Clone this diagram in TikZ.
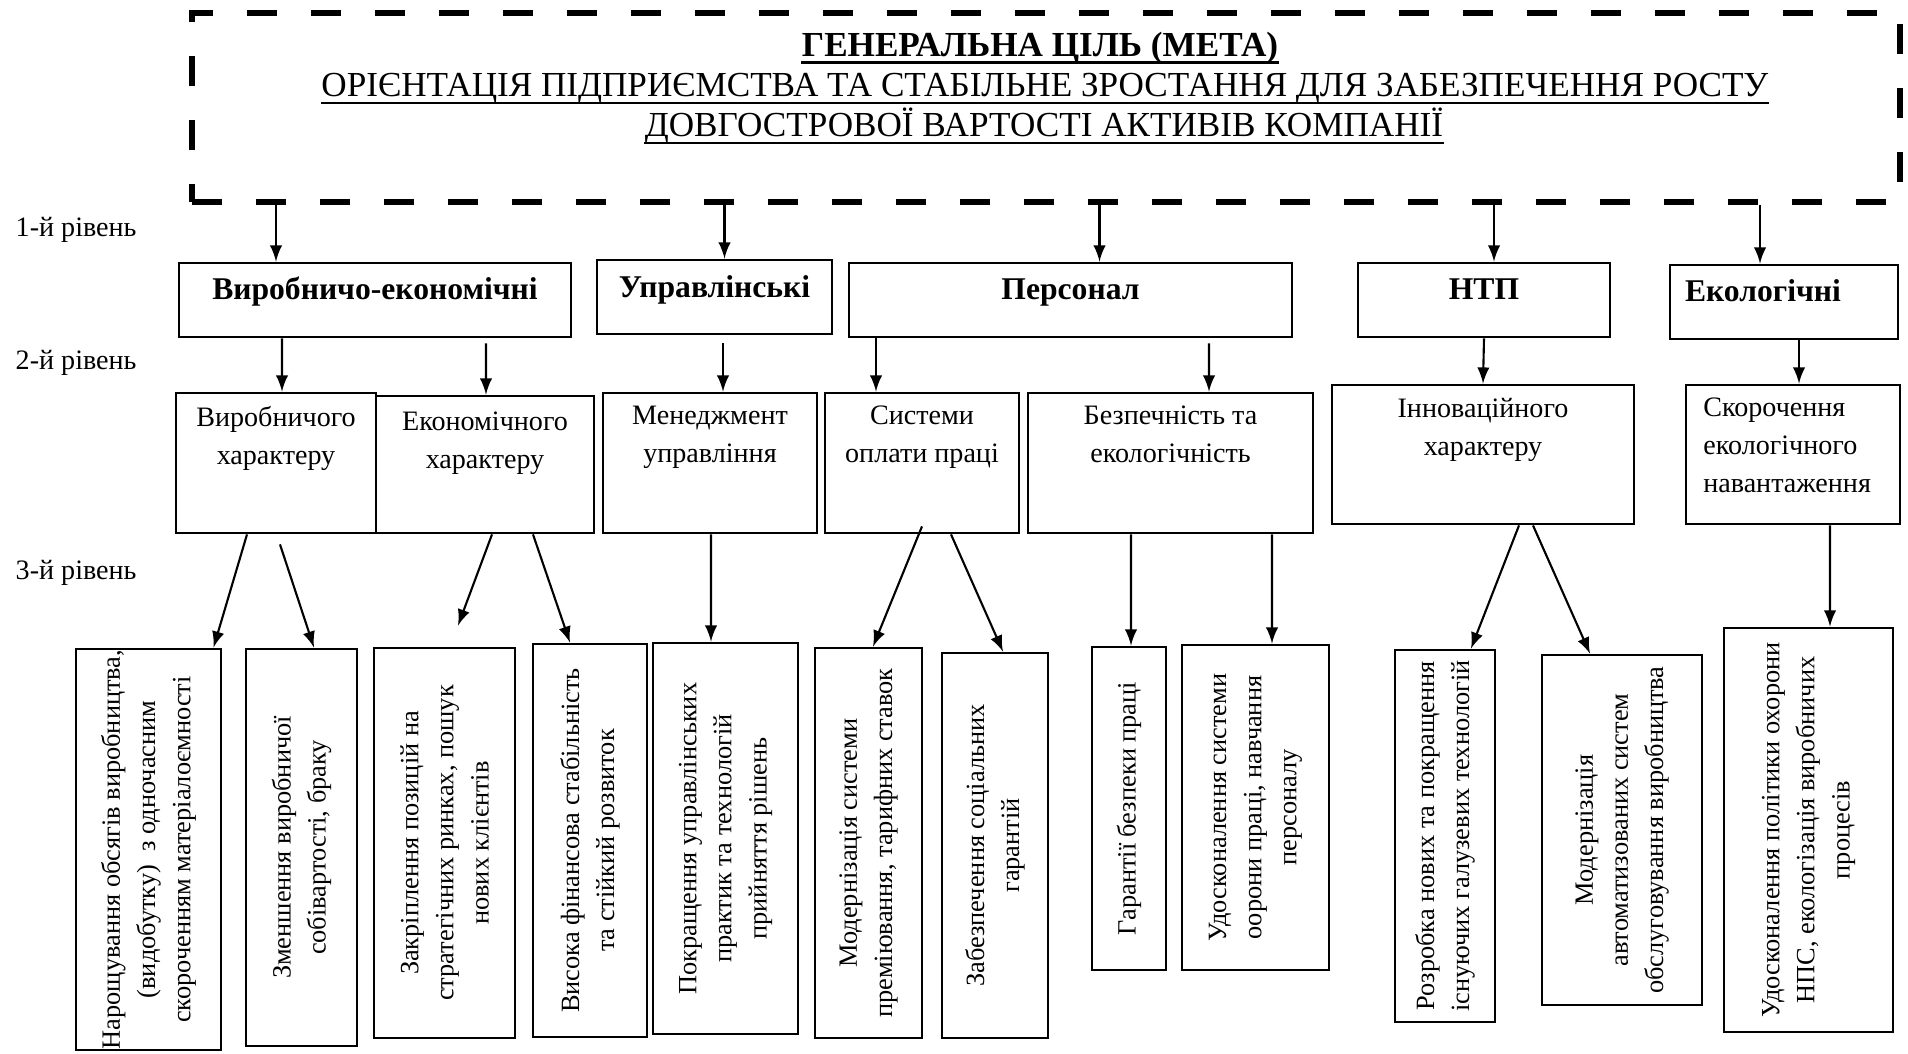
\documentclass[tikz,border=0pt]{standalone}
\usepackage{fontspec}
\setmainfont{Liberation Serif}
\usetikzlibrary{positioning}

\begin{document}
\begin{tikzpicture}[
    goal/.style={draw, line width=1.7pt, dash pattern=on 0.30cm off 0.34cm, minimum width=17.08cm, minimum height=1.89cm},
    lvone/.style={draw, line width=0.8pt, font=\fontsize{9}{11}\selectfont\bfseries, text height=2mm, text depth=2mm, minimum height=0.74cm},
    box/.style={draw, line width=0.8pt},
    lvtext/.style={font=\fontsize{8}{10.8}\selectfont, align=center, inner sep=0pt},
    vtext/.style={rotate=90, font=\fontsize{7.5}{10}\selectfont, align=center, inner sep=0pt},
    arr/.style={->, >=latex, line width=0.6pt},
    lvl/.style={font=\fontsize{8}{10}\selectfont, anchor=west, inner sep=0pt},
    ttl/.style={font=\fontsize{10}{12}\selectfont, anchor=base, inner sep=0pt},
    uline/.style={line width=0.6pt}
]
\useasboundingbox (0,0) rectangle (19.08,-10.54);

% генеральна ціль
\node[goal] (goal) at (10.46,-1.075) {};
\node[ttl, font=\fontsize{10}{12}\selectfont\bfseries] (g1) at (10.40,-0.57) {ГЕНЕРАЛЬНА ЦІЛЬ (МЕТА)};
\node[ttl] (g2) at (10.45,-0.97) {ОРІЄНТАЦІЯ ПІДПРИЄМСТВА ТА СТАБІЛЬНЕ ЗРОСТАННЯ ДЛЯ ЗАБЕЗПЕЧЕННЯ РОСТУ};
\node[ttl] (g3) at (10.44,-1.37) {ДОВГОСТРОВОЇ ВАРТОСТІ АКТИВІВ КОМПАНІЇ};
\draw[uline, line width=0.8pt] ([yshift=-1.6pt]g1.base west) -- ([yshift=-1.6pt]g1.base east);
\draw[uline] ([yshift=-1.6pt]g2.base west) -- ([yshift=-1.6pt]g2.base east);
\draw[uline] ([yshift=-1.6pt]g3.base west) -- ([yshift=-1.6pt]g3.base east);

% рівні
\node[lvl] (r1) at (0.15,-2.30) {1-й рівень};
\node[lvl] (r2) at (0.15,-3.63) {2-й рівень};
\node[lvl] (r3) at (0.15,-5.73) {3-й рівень};

% 1-й рівень
\node[lvone, minimum width=3.92cm] (a1) at (3.75,-3.00) {Виробничо-економічні};
\node[lvone, minimum width=2.35cm] (a2) at (7.145,-2.97) {Управлінські};
\node[lvone, minimum width=4.43cm] (a3) at (10.705,-3.00) {Персонал};
\node[lvone, minimum width=2.52cm] (a4) at (14.84,-3.00) {НТП};
\node[lvone, minimum width=2.28cm] (a5) at (17.84,-3.02) {Екологічні\hspace*{0.42cm}};

\coordinate (p1) at ([xshift=-0.99cm]a1.north);
\coordinate (p2) at ([xshift=0.10cm]a2.north);
\coordinate (p3) at ([xshift=0.29cm]a3.north);
\coordinate (p4) at ([xshift=0.10cm]a4.north);
\coordinate (p5) at ([xshift=-0.24cm]a5.north);
\draw[arr] (goal.south -| p1) -- (p1);
\draw[arr] (goal.south -| p2) -- (p2);
\draw[arr] (goal.south -| p3) -- (p3);
\draw[arr] (goal.south -| p4) -- (p4);
\draw[arr] (goal.south -| p5) -- (p5);

% 2-й рівень
\node[box, minimum width=2.00cm, minimum height=1.40cm] (b1) at (2.76,-4.63) {};
\node[box, minimum width=2.18cm, minimum height=1.37cm] (b2) at (4.85,-4.645) {};
\node[box, minimum width=2.14cm, minimum height=1.40cm] (b3) at (7.10,-4.63) {};
\node[box, minimum width=1.94cm, minimum height=1.40cm] (b4) at (9.22,-4.63) {};
\node[box, minimum width=2.85cm, minimum height=1.40cm] (b5) at (11.705,-4.63) {};
\node[box, minimum width=3.02cm, minimum height=1.39cm] (b6) at (14.83,-4.545) {};
\node[box, minimum width=2.14cm, minimum height=1.39cm] (b7) at (17.93,-4.545) {};

\node[lvtext, below=0.14cm of b1.north] (t1) {Виробничого\\характеру};
\node[lvtext, below=0.17cm of b2.north] (t2) {Економічного\\характеру};
\node[lvtext, below=0.14cm of b3.north] (t3) {Менеджмент\\управління};
\node[lvtext, below=0.14cm of b4.north] (t4) {Системи\\оплати праці};
\node[lvtext, below=0.14cm of b5.north] (t5) {Безпечність та\\екологічність};
\node[lvtext, below=0.14cm of b6.north] (t6) {Інноваційного\\характеру};
\node[lvtext, align=left, below right=0.14cm and 0.18cm of b7.north west] (t7) {Скорочення\\екологічного\\навантаження};

\draw[arr] ([xshift=-0.93cm]a1.south) -- ([xshift=0.06cm]b1.north);
\draw[arr] ([xshift=1.11cm,yshift=-0.05cm]a1.south) -- ([xshift=0.01cm]b2.north);
\draw[arr] ([xshift=0.085cm,yshift=-0.08cm]a2.south) -- ([xshift=0.13cm]b3.north);
\draw[arr] ([xshift=-1.945cm]a3.south) -- ([xshift=-0.46cm]b4.north);
\draw[arr] ([xshift=1.385cm,yshift=-0.05cm]a3.south) -- ([xshift=0.385cm]b5.north);
\draw[arr] (a4.south) -- (b6.north);
\draw[arr] ([xshift=0.15cm]a5.south) -- ([xshift=0.06cm]b7.north);

% 3-й рівень
\node[box, minimum width=1.45cm, minimum height=4.01cm] (c1) at (1.485,-8.495) {};
\node[box, minimum width=1.11cm, minimum height=3.97cm] (c2) at (3.015,-8.475) {};
\node[box, minimum width=1.41cm, minimum height=3.90cm] (c3) at (4.445,-8.43) {};
\node[box, minimum width=1.14cm, minimum height=3.93cm] (c4) at (5.90,-8.405) {};
\node[box, minimum width=1.45cm, minimum height=3.91cm] (c5) at (7.255,-8.385) {};
\node[box, minimum width=1.07cm, minimum height=3.90cm] (c6) at (8.685,-8.43) {};
\node[box, minimum width=1.06cm, minimum height=3.85cm] (c7) at (9.95,-8.455) {};
\node[box, minimum width=0.74cm, minimum height=3.23cm] (c8) at (11.29,-8.085) {};
\node[box, minimum width=1.47cm, minimum height=3.25cm] (c9) at (12.555,-8.075) {};
\node[box, minimum width=1.00cm, minimum height=3.72cm] (c10) at (14.45,-8.36) {};
\node[box, minimum width=1.60cm, minimum height=3.50cm] (c11) at (16.22,-8.30) {};
\node[box, minimum width=1.69cm, minimum height=4.04cm] (c12) at (18.085,-8.30) {};

\node[vtext] (s1) at (c1) {Нарощування обсягів виробництва,\\(видобутку)~ з одночасним\\скороченням матеріалоємності};
\node[vtext] (s2) at (c2) {Зменшення виробничої\\собівартості, браку};
\node[vtext] (s3) at (c3) {Закріплення позицій на\\стратегічних ринках, пошук\\нових клієнтів};
\node[vtext] (s4) at (c4) {Висока фінансова стабільність\\та стійкий розвиток};
\node[vtext] (s5) at (c5) {Покращення управлінських\\практик та технологій\\прийняття рішень};
\node[vtext] (s6) at (c6) {Модернізація системи\\преміювання, тарифних ставок};
\node[vtext] (s7) at (c7) {Забезпечення соціальних\\гарантій};
\node[vtext] (s8) at (c8) {Гарантії безпеки праці};
\node[vtext] (s9) at (c9) {Удосконалення системи\\оорони праці, навчання\\персоналу};
\node[vtext] (s10) at (c10) {Розробка нових та покращення\\існуючих галузевих технологій};
\node[vtext] (s11) at (c11) {Модернізація\\автоматизованих систем\\обслуговування виробництва};
\node[vtext] (s12) at (c12) {Удосконалення політики охорони\\НПС, екологізація виробничих\\процесів};

\draw[arr] ([xshift=-0.29cm]b1.south) -- ([xshift=0.65cm]c1.north);
\draw[arr] ([xshift=0.04cm,yshift=-0.10cm]b1.south) -- ([xshift=0.125cm]c2.north);
\draw[arr] ([xshift=0.07cm]b2.south) -- ([xshift=0.135cm,yshift=0.21cm]c3.north);
\draw[arr] ([xshift=0.48cm]b2.south) -- ([xshift=-0.20cm]c4.north);
\draw[arr] ([xshift=0.01cm]b3.south) -- ([xshift=-0.145cm]c5.north);
\draw[arr] ([yshift=0.08cm]b4.south) -- ([xshift=0.045cm]c6.north);
\draw[arr] ([xshift=0.29cm]b4.south) -- ([xshift=0.08cm]c7.north);
\draw[arr] ([xshift=-0.395cm]b5.south) -- ([xshift=0.02cm]c8.north);
\draw[arr] ([xshift=1.015cm]b5.south) -- ([xshift=0.165cm]c9.north);
\draw[arr] ([xshift=0.36cm]b6.south) -- ([xshift=0.26cm]c10.north);
\draw[arr] ([xshift=0.50cm]b6.south) -- ([xshift=-0.32cm]c11.north);
\draw[arr] ([xshift=0.37cm]b7.south) -- ([xshift=0.215cm]c12.north);
\end{tikzpicture}
\end{document}
